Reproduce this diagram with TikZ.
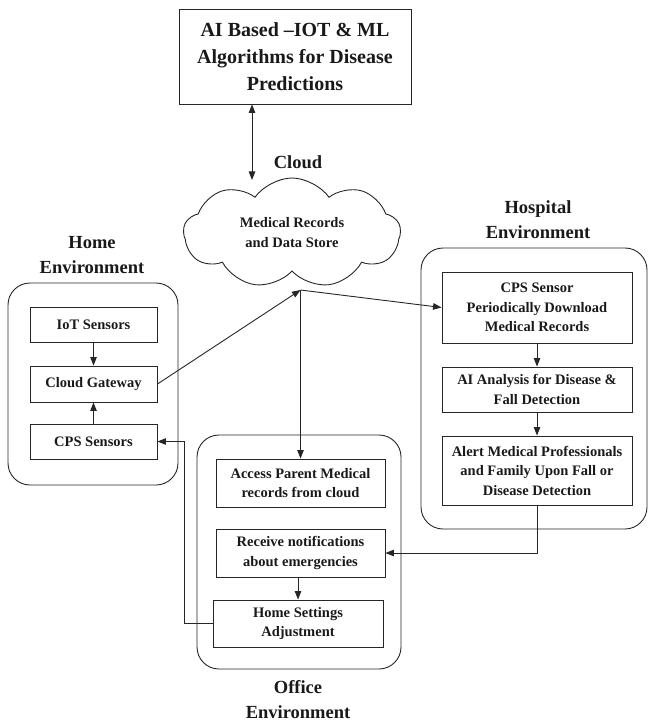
\documentclass[tikz,border=0pt]{standalone}
\usepackage{fontspec}
\setmainfont{Liberation Serif}
\usetikzlibrary{arrows.meta,shapes.symbols}
\begin{document}
\begin{tikzpicture}[x=1pt,y=-1pt,
  every node/.style={text=black!90},
  ln/.style={draw=black!85,line width=0.9pt},
  arr/.style={ln,-{Triangle[length=8.5pt,width=6.5pt]}},
  darr/.style={ln,{Triangle[length=8.5pt,width=6.5pt]}-{Triangle[length=8.5pt,width=6.5pt]}},
  box/.style={ln,rectangle,inner sep=0pt,align=center,
     font=\fontsize{14.5}{19.5}\selectfont\bfseries},
  env/.style={ln,rectangle,rounded corners=22pt,inner sep=0pt},
  lbl/.style={align=center,font=\fontsize{18.5}{25}\selectfont\bfseries},
]
\useasboundingbox (0,0) rectangle (649,722);

% top box
\node[box,minimum width=232pt,minimum height=95pt,
  font=\fontsize{20}{27}\selectfont\bfseries] (ai) at (295,56.5)
  {AI Based –IOT \& ML\\Algorithms for Disease\\Predictions};

% cloud
\node[lbl] (cloudlbl) at (298,162) {Cloud};
\node[ln,cloud,cloud puffs=9,cloud puff arc=110,aspect=2.2,inner sep=0pt,
  minimum width=217pt,minimum height=110pt,align=center,
  font=\fontsize{14.5}{20}\selectfont\bfseries] (cloud) at (292,233)
  {Medical Records\\and Data Store};
\coordinate (cloudtop) at (252,180);
\coordinate (hub) at (300.5,290);

% home
\node[lbl] (homelbl) at (92,255) {Home\\Environment};
\node[env,minimum width=170pt,minimum height=202pt] (home) at (93,384) {};
\node[box,minimum width=127pt,minimum height=35pt] (iot) at (93.5,324.5) {IoT Sensors};
\node[box,minimum width=127pt,minimum height=36pt] (gw) at (93.5,384) {Cloud Gateway};
\node[box,minimum width=127pt,minimum height=35pt] (cps) at (93.5,441.5) {CPS Sensors};

% hospital
\node[lbl] (hosplbl) at (538,220) {Hospital\\Environment};
\node[env,minimum width=226pt,minimum height=281pt] (hosp) at (534,388.5) {};
\node[box,minimum width=190pt,minimum height=71pt] (cpss) at (537,307.5)
  {CPS Sensor\\Periodically Download\\Medical Records};
\node[box,minimum width=190pt,minimum height=45pt] (aian) at (537,389.5)
  {AI Analysis for Disease \&\\Fall Detection};
\node[box,minimum width=190pt,minimum height=69pt] (alert) at (537,470.5)
  {Alert Medical Professionals\\and Family Upon Fall or\\Disease Detection};

% office
\node[env,minimum width=204pt,minimum height=234pt] (office) at (299,552) {};
\node[box,minimum width=169pt,minimum height=48pt] (access) at (300.5,483)
  {Access Parent Medical\\records from cloud};
\node[box,minimum width=169pt,minimum height=48pt] (recv) at (300.5,553)
  {Receive notifications\\about emergencies};
\node[box,minimum width=170pt,minimum height=47pt] (hset) at (298,623.5)
  {Home Settings\\Adjustment};
\node[lbl] (officelbl) at (298,700) {Office\\Environment};

% connectors
\draw[darr] (ai.south -| cloudtop) -- (cloudtop);
\draw[arr] (iot) -- (gw);
\draw[arr] (cps) -- (gw);
\draw[arr] (gw.east) -- (hub);
\draw[arr] (hub) -- (access.north);
\draw[arr] (hub) -- (cpss.west);
\draw[arr] (cpss) -- (aian);
\draw[arr] (aian) -- (alert);
\draw[arr] (alert.south) |- (recv.east);
\draw[arr] (recv.south -| hset.north) -- (hset.north);
\draw[arr] (hset.west) -- ++(-28,0) |- (cps.east);
\end{tikzpicture}
\end{document}
